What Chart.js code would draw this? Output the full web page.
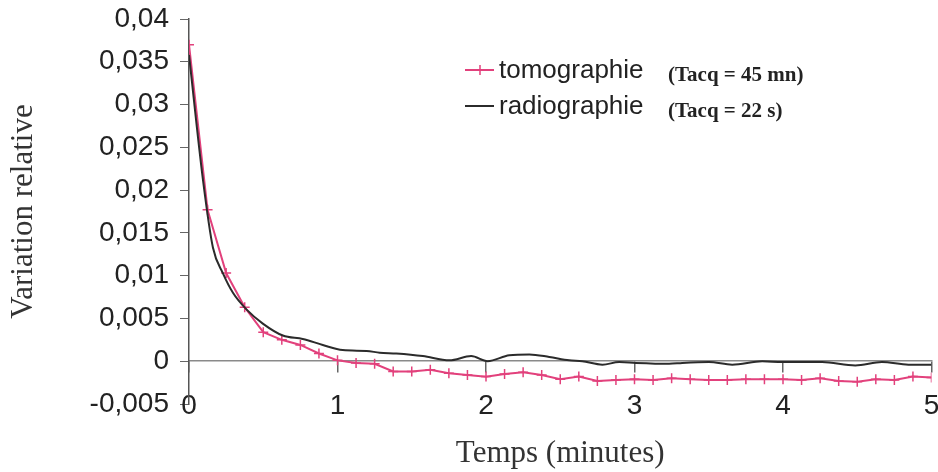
<!DOCTYPE html>
<html>
<head>
<meta charset="utf-8">
<script src="https://cdn.jsdelivr.net/npm/chart.js@4/dist/chart.umd.min.js"></script>
<style>
html,body{margin:0;padding:0;background:#fff;}
canvas{display:block;}
</style>
</head>
<body>
<canvas id="c" width="938" height="472"></canvas>
<script>
// ---- data ----
const seriesNames = ['tomographie', 'radiographie'];
const legendNotes = ['(Tacq = 45 mn)', '(Tacq = 22 s)'];

const tomoTimes = [0, 0.125, 0.25, 0.375, 0.5, 0.625, 0.75, 0.875, 1, 1.125,
  1.25, 1.375, 1.5, 1.625, 1.75, 1.875, 2, 2.125, 2.25, 2.375,
  2.5, 2.625, 2.75, 2.875, 3, 3.125, 3.25, 3.375, 3.5, 3.625,
  3.75, 3.875, 4, 4.125, 4.25, 4.375, 4.5, 4.625, 4.75, 4.875, 5];
const tomoValues = [0.0370, 0.0177, 0.0103, 0.0063, 0.0034, 0.0025, 0.0019, 0.0009, 0.0001, -0.0002,
  -0.0003, -0.0012, -0.0012, -0.0010, -0.0014, -0.0016, -0.0018, -0.0015, -0.0013, -0.0016,
  -0.0021, -0.0018, -0.0023, -0.0022, -0.0021, -0.0022, -0.0020, -0.0021, -0.0022, -0.0022,
  -0.0021, -0.0021, -0.0021, -0.0022, -0.0020, -0.0023, -0.0024, -0.0021, -0.0022, -0.0018, -0.0019];

const radioTimes = [0, 0.094, 0.161, 0.228, 0.296, 0.39, 0.497, 0.632, 0.766, 0.901,
  1.035, 1.196, 1.284, 1.396, 1.575, 1.754, 1.9, 2.011, 2.157, 2.292,
  2.426, 2.56, 2.648, 2.784, 2.897, 3.009, 3.233, 3.322, 3.501, 3.658,
  3.86, 3.994, 4.263, 4.487, 4.666, 4.845, 5.0];
const radioValues = [0.0358, 0.0212, 0.0133, 0.0103, 0.0080, 0.0060, 0.0044, 0.0030, 0.0026, 0.0019,
  0.0013, 0.0012, 0.0010, 0.0009, 0.0006, 0.0001, 0.0006, 0.0000, 0.0007, 0.0008,
  0.0005, 0.0001, 0.0000, -0.0004, -0.0001, -0.0002, -0.0003, -0.0002, -0.0001, -0.0004,
  0.0000, -0.0001, -0.0001, -0.0005, -0.0001, -0.0004, -0.0004];

const xTitle = 'Temps (minutes)';
const yTitle = 'Variation relative';

// ---- styles ----
const PINK = '#e2417c';
const DARK = '#2b2b2b';
const SANS = '"Liberation Sans", Arial, sans-serif';
const SERIF = '"Liberation Serif", "Times New Roman", serif';

function fmtTick(v) {
  const n = Number(v.toFixed(3));
  return String(n).replace('.', ',');
}

const legendPlugin = {
  id: 'customLegend',
  afterDraw(chart) {
    const ctx = chart.ctx;
    const rows = [{ y: 78 }, { y: 114 }];
    ctx.save();
    chart.data.datasets.forEach((ds, i) => {
      const by = rows[i].y;
      const ly = by - 8;
      ctx.strokeStyle = ds.borderColor;
      ctx.lineWidth = 2;
      ctx.beginPath();
      ctx.moveTo(465, ly);
      ctx.lineTo(494, ly);
      ctx.stroke();
      if (ds.pointStyle === 'cross') {
        ctx.lineWidth = 1.5;
        ctx.beginPath();
        ctx.moveTo(480, ly - 5);
        ctx.lineTo(480, ly + 5);
        ctx.stroke();
      }
      ctx.fillStyle = '#222';
      ctx.textBaseline = 'alphabetic';
      ctx.textAlign = 'left';
      ctx.font = '26px ' + SANS;
      ctx.fillText(ds.label, 499, by);
      ctx.font = 'bold 21px ' + SERIF;
      ctx.fillText(legendNotes[i], 668, by + 3);
    });
    ctx.restore();
  }
};

new Chart(document.getElementById('c'), {
  type: 'line',
  data: {
    datasets: [
      {
        label: seriesNames[0],
        data: tomoTimes.map((t, i) => ({ x: t, y: tomoValues[i] })),
        borderColor: PINK,
        backgroundColor: PINK,
        borderWidth: 2,
        pointStyle: 'cross',
        pointRadius: 5,
        pointBorderWidth: 1.5,
        pointBorderColor: PINK,
        tension: 0,
        order: 1
      },
      {
        label: seriesNames[1],
        data: radioTimes.map((t, i) => ({ x: t, y: radioValues[i] })),
        borderColor: DARK,
        backgroundColor: DARK,
        borderWidth: 2,
        pointRadius: 0,
        cubicInterpolationMode: 'monotone',
        order: 0
      }
    ]
  },
  options: {
    responsive: false,
    animation: false,
    devicePixelRatio: 1,
    layout: { padding: { left: 0, right: 5, top: 19, bottom: 68 } },
    plugins: { legend: { display: false }, tooltip: { enabled: false } },
    scales: {
      x: {
        type: 'linear',
        position: { y: 0 },
        min: 0,
        max: 5,
        ticks: {
          stepSize: 1,
          padding: 17,
          color: '#222',
          font: { family: SANS, size: 28 },
          maxRotation: 0
        },
        grid: { drawOnChartArea: false, tickLength: 11, color: '#666', lineWidth: 1.5 },
        border: { display: true, color: '#8a8a8a', width: 1.5 },
        title: {
          display: true,
          text: xTitle,
          color: '#333',
          font: { family: SERIF, size: 31 },
          padding: { top: 0, bottom: -43 }
        },
        afterFit(scale) { scale.height = 68; scale.paddingLeft = 0; scale.paddingRight = 0; }
      },
      y: {
        type: 'linear',
        position: 'left',
        min: -0.005,
        max: 0.04,
        ticks: {
          stepSize: 0.005,
          padding: 11,
          color: '#222',
          font: { family: SANS, size: 28 },
          callback: (v) => fmtTick(v)
        },
        grid: { drawOnChartArea: false, tickLength: 9, color: '#666', lineWidth: 1 },
        border: { display: true, color: '#555', width: 1.5 },
        title: {
          display: true,
          text: yTitle,
          color: '#333',
          font: { family: SERIF, size: 31 },
          padding: { top: 5, bottom: 0 }
        },
        afterFit(scale) { scale.width = 189; scale.paddingTop = 0; scale.paddingBottom = 0; }
      }
    }
  },
  plugins: [legendPlugin]
});
</script>
</body>
</html>
